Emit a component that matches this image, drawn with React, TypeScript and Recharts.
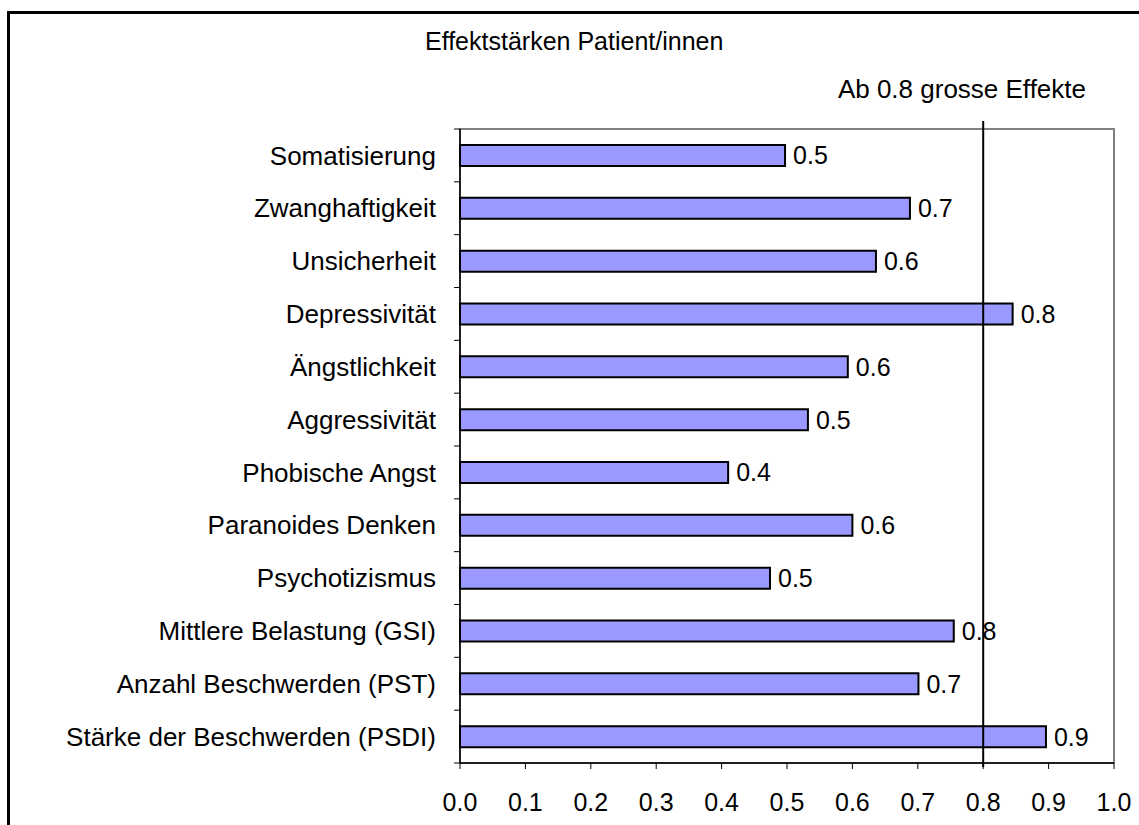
import {
  BarChart,
  Bar,
  XAxis,
  YAxis,
  ReferenceLine,
  ReferenceArea,
  LabelList
} from 'recharts';

const categories = [
  'Somatisierung',
  'Zwanghaftigkeit',
  'Unsicherheit',
  'Depressivität',
  'Ängstlichkeit',
  'Aggressivität',
  'Phobische Angst',
  'Paranoides Denken',
  'Psychotizismus',
  'Mittlere Belastung (GSI)',
  'Anzahl Beschwerden (PST)',
  'Stärke der Beschwerden (PSDI)'
];

const effects = [0.497, 0.688, 0.636, 0.845, 0.593, 0.532, 0.41, 0.6, 0.474, 0.755, 0.701, 0.896];

const xTicks = [0, 0.1, 0.2, 0.3, 0.4, 0.5, 0.6, 0.7, 0.8, 0.9, 1.0];

const threshold = 0.8;
const title = 'Effektstärken Patient/innen';
const thresholdLabel = 'Ab 0.8 grosse Effekte';

const data = categories.map((name, i) => ({ name, value: effects[i] }));

const W = 1139;
const H = 825;
const FONT = '"Liberation Sans", Arial, sans-serif';
const AXIS_X = 460;
const PLOT_TOP = 129;
const PLOT_BOTTOM = 763;
const BAND = (PLOT_BOTTOM - PLOT_TOP) / categories.length;

function CategoryTick(props: any) {
  const { y, payload, index } = props;
  const top = y - BAND / 2;
  return (
    <g>
      <line x1={AXIS_X - 6} x2={AXIS_X} y1={top} y2={top} stroke="#000" />
      {index === categories.length - 1 && (
        <line x1={AXIS_X - 6} x2={AXIS_X} y1={top + BAND} y2={top + BAND} stroke="#000" />
      )}
      <text x={436} y={y} dy="0.35em" textAnchor="end" fontSize={26} fill="#000" fontFamily={FONT}>
        {payload.value}
      </text>
    </g>
  );
}

export default function App() {
  return (
    <div style={{ position: 'absolute', left: 0, top: 0, width: W, height: H, overflow: 'hidden', background: '#fff', fontFamily: FONT }}>
      <div style={{ position: 'absolute', left: 7, top: 11, width: 1300, height: 1000, border: '3px solid #000' }} />
      <div style={{ position: 'absolute', left: 425, top: 27, fontSize: 25, lineHeight: 'normal', color: '#000', whiteSpace: 'nowrap' }}>{title}</div>
      <div style={{ position: 'absolute', right: 53, top: 74, fontSize: 26, lineHeight: 'normal', color: '#000', whiteSpace: 'nowrap' }}>{thresholdLabel}</div>
      <div style={{ position: 'absolute', left: 0, top: 0 }}>
        <BarChart
          width={W}
          height={H}
          data={data}
          layout="vertical"
          margin={{ top: PLOT_TOP, right: 25, bottom: 0, left: 0 }}
          barSize={21}
        >
          <ReferenceArea x1={0} x2={1} fill="none" stroke="#808080" strokeWidth={2} ifOverflow="visible" />
          <XAxis
            type="number"
            domain={[0, 1]}
            ticks={xTicks}
            interval={0}
            height={H - PLOT_BOTTOM}
            tickFormatter={(v: number) => v.toFixed(1)}
            tick={{ fontSize: 25, fill: '#000', fontFamily: FONT }}
            tickMargin={24}
            tickSize={6}
            axisLine={{ stroke: '#000', strokeWidth: 1.5 }}
            tickLine={{ stroke: '#000' }}
          />
          <YAxis
            type="category"
            dataKey="name"
            width={AXIS_X}
            interval={0}
            tickLine={false}
            axisLine={{ stroke: '#000', strokeWidth: 1.5 }}
            tick={<CategoryTick />}
          />
          <Bar dataKey="value" fill="#9999ff" stroke="#000" strokeWidth={2} isAnimationActive={false}>
            <LabelList
              dataKey="value"
              position="right"
              offset={8}
              formatter={(v: any) => Number(v).toFixed(1)}
              style={{ fontSize: 25, fill: '#000', fontFamily: FONT }}
            />
          </Bar>
          <ReferenceLine
            x={threshold}
            stroke="#000"
            strokeWidth={2}
            ifOverflow="visible"
            shape={(p: any) => (
              <line
                x1={p.x1}
                x2={p.x2}
                y1={Math.min(p.y1, p.y2) - 8}
                y2={Math.max(p.y1, p.y2) + 4}
                stroke="#000"
                strokeWidth={2}
              />
            )}
          />
        </BarChart>
      </div>
    </div>
  );
}
